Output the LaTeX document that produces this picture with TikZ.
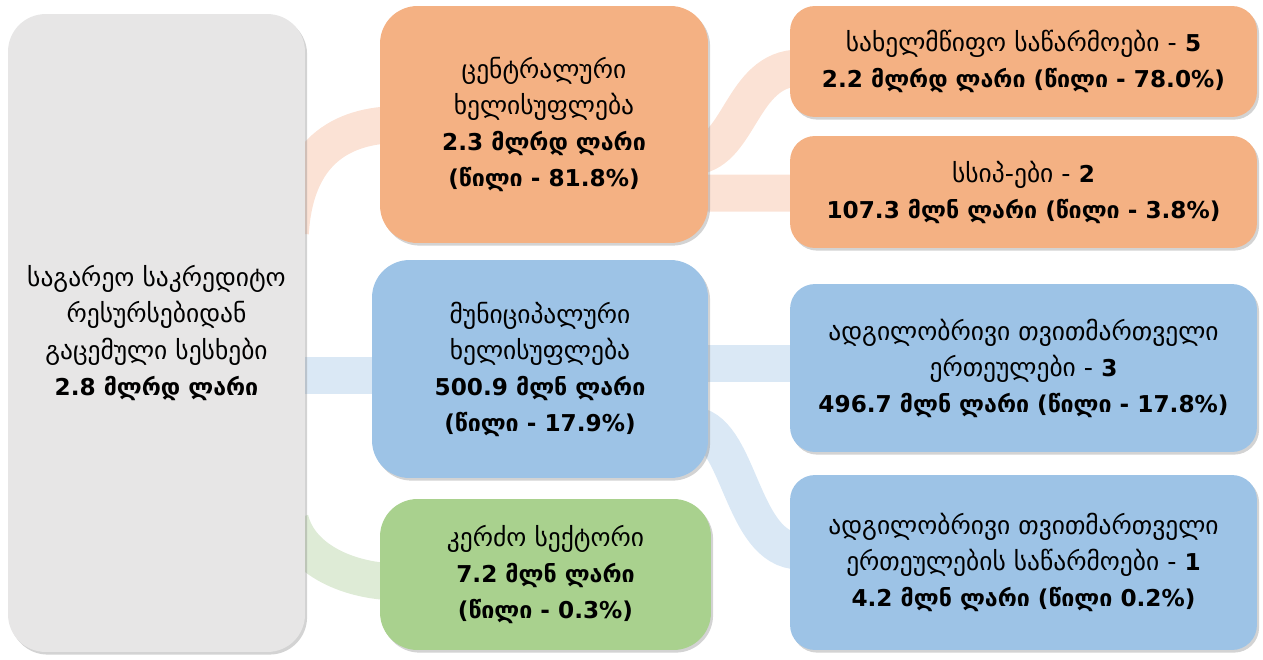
\documentclass[tikz,border=0pt]{standalone}
\usepackage{fontspec}
\setmainfont{DejaVu Sans}
\usetikzlibrary{positioning, shadows}
\pgfdeclarelayer{background}
\pgfsetlayers{background,main}
\definecolor{boxgray}{HTML}{E7E6E6}
\definecolor{boxorange}{HTML}{F4B183}
\definecolor{boxblue}{HTML}{9DC3E6}
\definecolor{boxgreen}{HTML}{A9D18E}
\definecolor{bandorange}{HTML}{FBE2D5}
\definecolor{bandblue}{HTML}{DAE8F5}
\definecolor{bandgreen}{HTML}{DEEBD6}
\newcommand{\amount}[1]{{\fontsize{13.2}{20.5}\selectfont\bfseries #1}}

\begin{document}
\begin{tikzpicture}[x=0.02cm, y=-0.02cm,
   box/.style={rounded corners=0.75cm, align=center, inner sep=0pt,
      font=\fontsize{14.5}{20.5}\selectfont,
      drop shadow={shadow xshift=1.2pt, shadow yshift=-1.5pt, opacity=0.35}},
   rbox/.style={box, rounded corners=0.5cm, minimum width=9.34cm},
   band/.style={line width=0.74cm}]
   \useasboundingbox (0,0) rectangle (1263,659);

   % source
   \node[box, fill=boxgray, minimum width=5.94cm, minimum height=12.76cm] (loans) at (156.5,333)
      {საგარეო საკრედიტო\\რესურსებიდან\\გაცემული სესხები\\\amount{2.8 მლრდ ლარი}};

   % middle column
   \node[box, fill=boxorange, minimum width=6.56cm, minimum height=4.74cm] (central) at (544,124.5)
      {ცენტრალური\\ხელისუფლება\\\amount{2.3 მლრდ ლარი}\\\amount{(წილი - 81.8\%)}};
   \node[box, fill=boxblue, minimum width=6.72cm, minimum height=4.36cm] (munic) at (540,369)
      {მუნიციპალური\\ხელისუფლება\\\amount{500.9 მლნ ლარი}\\\amount{(წილი - 17.9\%)}};
   \node[box, fill=boxgreen, minimum width=6.62cm, minimum height=3.02cm] (private) at (545.5,574.5)
      {კერძო სექტორი\\\amount{7.2 მლნ ლარი}\\\amount{(წილი - 0.3\%)}};

   % right column
   \node[rbox, fill=boxorange, minimum height=2.22cm] (stateent) at (1023.5,61.5)
      {სახელმწიფო საწარმოები - \amount{5}\\\amount{2.2 მლრდ ლარი (წილი - 78.0\%)}};
   \node[rbox, fill=boxorange, minimum height=2.24cm] (lepl) at (1023.5,192)
      {სსიპ-ები - \amount{2}\\\amount{107.3 მლნ ლარი (წილი - 3.8\%)}};
   \node[rbox, fill=boxblue, minimum height=3.36cm] (selfgov) at (1023.5,368)
      {ადგილობრივი თვითმართველი\\ერთეულები - \amount{3}\\\amount{496.7 მლნ ლარი (წილი - 17.8\%)}};
   \node[rbox, fill=boxblue, minimum height=3.5cm] (localent) at (1023.5,562.5)
      {ადგილობრივი თვითმართველი\\ერთეულების საწარმოები - \amount{1}\\\amount{4.2 მლნ ლარი (წილი 0.2\%)}};

   % bands behind the boxes
   \begin{pgfonlayer}{background}
   \draw[band, bandorange] ([shift={(-15,-100)}]loans.east) .. controls +(5,-80) and +(-60,0) .. ([shift={(20,0)}]central.west);
   \draw[band, bandblue] ([shift={(-15,42)}]loans.east) -- ([shift={(20,6)}]munic.west);
   \draw[band, bandgreen] ([shift={(-15,187)}]loans.east) .. controls +(10,40) and +(-50,0) .. ([shift={(20,7.5)}]private.west);
   \draw[band, bandorange] ([shift={(-18,32)}]central.east) .. controls +(50,0) and +(-60,0) .. ([shift={(10,6.5)}]stateent.west);
   \draw[band, bandorange] ([shift={(-18,68.5)}]central.east) -- ([shift={(10,1)}]lepl.west);
   \draw[band, bandblue] ([shift={(-18,-6)}]munic.east) -- ([shift={(10,-5)}]selfgov.west);
   \draw[band, bandblue] ([shift={(-18,56)}]munic.east) .. controls +(50,0) and +(-60,0) .. ([shift={(10,-11.5)}]localent.west);
   \end{pgfonlayer}
\end{tikzpicture}
\end{document}
